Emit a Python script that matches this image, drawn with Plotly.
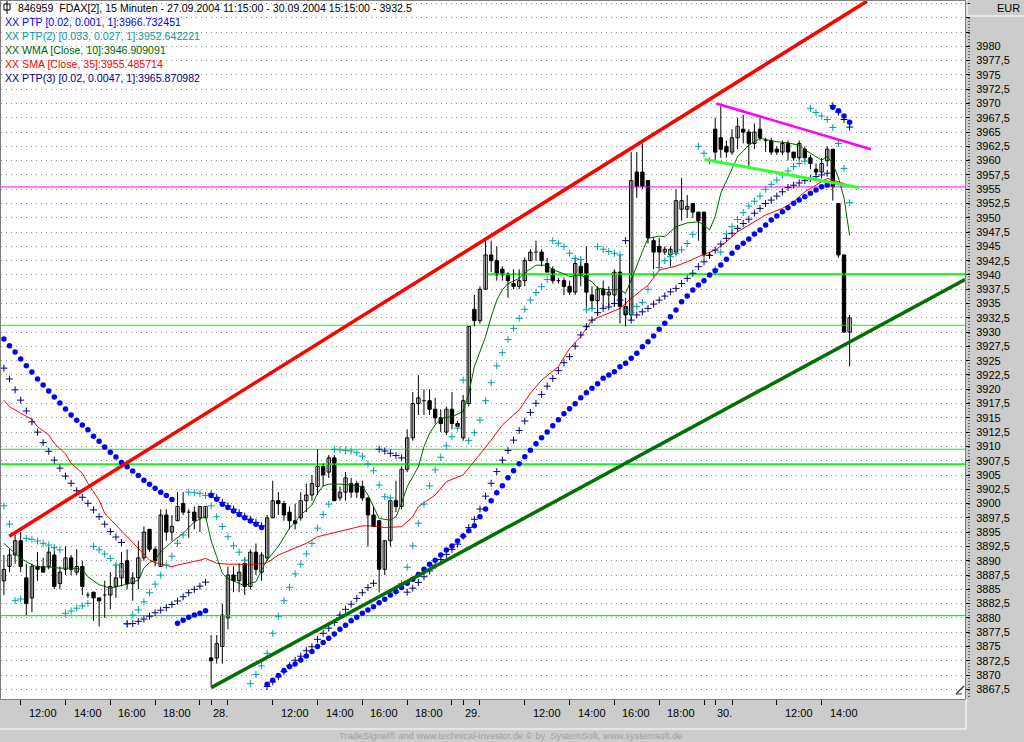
import plotly.graph_objects as go

# ---------------- data ----------------
open_p = [
    3886.5, 3889, 3891, 3893.5, 3887, 3883.5, 3889, 3889, 3889, 3891,
    3886, 3888.5, 3890.5, 3888, 3889, 3884, 3884.5, 3883.5, 3884, 3884,
    3885.5, 3887, 3890, 3886, 3887, 3890.5, 3895.5, 3892, 3889, 3898,
    3895, 3897, 3900, 3898.5, 3898.5, 3897.5, 3897.5, 3873, 3873, 3875,
    3880, 3887.5, 3886.5, 3889.5, 3885.5, 3891.5, 3888, 3890.5, 3897.5, 3900.5,
    3900, 3898.5, 3897, 3897.5, 3900.5, 3901.5, 3903, 3906.5, 3905.5, 3908,
    3901, 3902, 3903.5, 3903.5, 3903, 3901, 3898, 3897, 3888.5, 3893.5,
    3900.5, 3899.5, 3906, 3911.5, 3917.5, 3918, 3918, 3916.5, 3915, 3912.5,
    3916.5, 3914, 3911.5, 3917.5, 3934, 3932, 3937.5, 3943.5, 3942.5, 3941,
    3940, 3938.5, 3938, 3939, 3942.5, 3944, 3944, 3942, 3941, 3939,
    3939, 3938, 3937, 3941.5, 3942, 3936.5, 3935.5, 3937.5, 3936.5, 3936.5,
    3940.5, 3934.5, 3933, 3958, 3958, 3956.5, 3946, 3945, 3944, 3943.5,
    3944, 3951.5, 3951.5, 3952.5, 3951, 3951, 3943.5, 3965.5, 3964, 3962.5,
    3961.5, 3964, 3965.5, 3965, 3963, 3965.5, 3963.5, 3963.5, 3962, 3961.5,
    3963, 3961.5, 3960.5, 3962, 3960.5, 3958.5, 3958, 3960, 3962, 3952.5,
    3943.5, 3930]
high_p = [
    3891, 3892, 3894.5, 3895, 3889.5, 3889.5, 3891.5, 3890.5, 3892.5, 3892.5,
    3889, 3892.5, 3891, 3892, 3890, 3884.5, 3884.5, 3883.5, 3886.5, 3888,
    3889.5, 3891.5, 3892, 3888, 3893.5, 3896, 3895.5, 3892.5, 3899, 3899,
    3898, 3902, 3902, 3899, 3899.5, 3899.5, 3899.5, 3877, 3877, 3882.5,
    3889, 3889, 3889.5, 3890.5, 3892, 3893, 3891.5, 3898, 3904, 3902,
    3900.5, 3899.5, 3900, 3902, 3903.5, 3905, 3909.5, 3907, 3908.5, 3908.5,
    3903, 3905.5, 3904.5, 3904, 3904, 3901, 3899.5, 3897, 3893.5, 3901,
    3904, 3906.5, 3913, 3919.5, 3922.5, 3920, 3920, 3918.5, 3916.5, 3917,
    3919.5, 3914.5, 3919, 3931, 3936.5, 3938, 3946, 3946, 3945, 3941.5,
    3940.5, 3941, 3941, 3943, 3944.5, 3946, 3944.5, 3943, 3941.5, 3939.5,
    3939.5, 3939, 3943, 3942.5, 3945, 3938, 3938, 3939, 3938, 3941,
    3943.5, 3936, 3961.5, 3961.5, 3963, 3956.5, 3946.5, 3946.5, 3945, 3945,
    3955, 3957, 3954, 3952.5, 3951, 3951, 3944, 3967.5, 3969.5, 3963.5,
    3965.5, 3967.5, 3968, 3965.5, 3966.5, 3967.5, 3964, 3964, 3962.5, 3963.5,
    3963.5, 3961.5, 3963.5, 3962.5, 3961, 3959.5, 3960.5, 3962.5, 3962, 3952.5,
    3943.5, 3933]
low_p = [
    3884, 3888, 3889.5, 3888, 3880.5, 3881, 3886.5, 3888, 3888.5, 3885,
    3885, 3887.5, 3887.5, 3887.5, 3884, 3883.5, 3879.5, 3878.5, 3880, 3881.5,
    3883.5, 3885.5, 3885, 3883, 3885, 3890, 3891.5, 3889, 3889, 3893.5,
    3893.5, 3897, 3898, 3894, 3895.5, 3895, 3897.5, 3868, 3872, 3872,
    3878, 3884.5, 3884.5, 3884, 3885, 3887.5, 3886.5, 3890, 3897.5, 3898,
    3897, 3895.5, 3895.5, 3897, 3898.5, 3900.5, 3901.5, 3903, 3904.5, 3900.5,
    3900.5, 3900.5, 3901, 3901, 3900.5, 3892.5, 3896, 3884.5, 3887.5, 3892.5,
    3898.5, 3899, 3905.5, 3911, 3915.5, 3915.5, 3915.5, 3914, 3912.5, 3912,
    3913, 3913, 3911, 3917, 3931, 3931.5, 3937.5, 3940.5, 3939, 3939,
    3936, 3937.5, 3937.5, 3938, 3942.5, 3942.5, 3941.5, 3940.5, 3938.5, 3938.5,
    3936.5, 3936.5, 3936.5, 3938, 3934, 3934, 3933, 3934, 3934.5, 3934.5,
    3931.5, 3931, 3932, 3953.5, 3955, 3945.5, 3941, 3941, 3943.5, 3941.5,
    3943.5, 3949.5, 3950, 3950, 3946, 3943, 3943, 3960, 3960.5, 3960.5,
    3961, 3962, 3963, 3959, 3962, 3963.5, 3961.5, 3961, 3961, 3961,
    3960, 3960, 3960, 3960, 3958.5, 3957.5, 3957.5, 3959, 3953, 3943,
    3930, 3924]
close_p = [
    3888.5, 3891, 3893.5, 3889, 3882.5, 3889, 3888.5, 3888, 3891.5, 3885.5,
    3888, 3890.5, 3888.5, 3889, 3885.5, 3884, 3883.5, 3883, 3884, 3885.5,
    3887, 3889.5, 3886, 3887, 3890.5, 3895, 3892, 3890, 3898, 3895,
    3896, 3899.5, 3898.5, 3898.5, 3897, 3899.5, 3899.5, 3872.5, 3875.5, 3880.5,
    3887.5, 3886.5, 3888, 3885.5, 3891.5, 3888.5, 3891, 3897.5, 3900.5, 3900,
    3898, 3897, 3896.5, 3900.5, 3901.5, 3903.5, 3906.5, 3905, 3908, 3900.5,
    3902, 3904.5, 3902, 3902, 3901, 3898, 3896, 3888.5, 3893.5, 3900.5,
    3899.5, 3906, 3911.5, 3917.5, 3918.5, 3918, 3916.5, 3915, 3914, 3916.5,
    3914, 3913.5, 3918, 3931, 3932, 3937.5, 3943.5, 3942.5, 3940, 3940,
    3939, 3938, 3939, 3942.5, 3944, 3944, 3942.5, 3940.5, 3939, 3939,
    3938, 3937, 3942, 3940, 3937, 3935.5, 3937.5, 3936.5, 3937, 3940.5,
    3934.5, 3933, 3956.5, 3955.5, 3955.5, 3946.5, 3944, 3944, 3944.5, 3944.5,
    3953, 3953, 3952, 3951, 3949.5, 3943.5, 3943.5, 3961.5, 3962, 3961.5,
    3964, 3966, 3965, 3963, 3965, 3964, 3963.5, 3961.5, 3961.5, 3963,
    3961.5, 3960.5, 3963, 3960.5, 3959.5, 3958, 3959.5, 3962, 3955.5, 3943.5,
    3930, 3932.5]

# PTP (blue), PTP(2) (teal), PTP(3) (navy): one value per bar
ptp = [
    3928.8, 3927.6, 3926.5, 3925.3, 3924.1, 3923.0, 3921.8, 3920.75, 3919.7, 3918.65,
    3917.6, 3916.55, 3915.5, 3914.6, 3913.75, 3912.9, 3911.8, 3910.9, 3909.9, 3909.0,
    3908.15, 3907.2, 3906.45, 3905.7, 3904.9, 3904.1, 3903.4, 3902.7, 3902.0, 3901.4,
    3900.7, 3879.05, 3879.6, 3880.1, 3880.5, 3880.8, 3881.25, 3901.4, 3900.75, 3899.9,
    3899.3, 3898.7, 3898.1, 3897.5, 3896.95, 3896.4, 3895.8, 3868.4, 3869.1, 3869.9,
    3870.8, 3871.5, 3871.95, 3872.65, 3873.35, 3874.1, 3875.0, 3875.7, 3876.45, 3877.2,
    3878.0, 3878.7, 3879.5, 3880.1, 3880.8, 3881.4, 3881.95, 3882.65, 3883.25, 3884.0,
    3884.6, 3885.3, 3886.05, 3886.75, 3887.6, 3888.5, 3889.4, 3890.1, 3891.0, 3891.9,
    3892.6, 3893.45, 3894.33, 3895.25, 3896.13, 3897.7, 3899.05, 3900.5, 3901.9, 3903.13,
    3904.53, 3905.75, 3906.98, 3908.2, 3909.32, 3910.48, 3911.53, 3912.52, 3913.63, 3914.68,
    3915.73, 3916.6, 3917.47, 3918.52, 3919.4, 3920.17, 3920.97, 3921.92, 3922.5, 3923.07,
    3923.95, 3924.54, 3925.42, 3926.29, 3927.45, 3928.32, 3929.32, 3930.49, 3931.54, 3932.69,
    3933.87, 3935.32, 3936.32, 3937.37, 3938.24, 3939.0, 3939.99, 3940.74, 3941.74, 3942.74,
    3943.79, 3944.84, 3945.54, 3946.29, 3947.16, 3947.86, 3948.74, 3949.61, 3950.31, 3951.06,
    3951.76, 3952.53, 3953.11, 3953.69, 3954.28, 3954.86, 3955.44, 3955.73, 3969.33, 3968.73,
    3967.81, 3966.73]
ptp2 = [
    3899.6, 3896.4, 3883.0, 3883.3, 3893.9, 3893.75, 3893.45, 3893.05, 3892.75, 3892.3,
    3891.9, 3880.8, 3881.2, 3881.7, 3882.1, 3882.55, 3892.5, 3891.9, 3891.2, 3890.4,
    3889.25, 3888.1, 3879.0, 3880.5, 3881.4, 3882.8, 3884.4, 3885.9, 3887.5, 3889.25,
    3890.8, 3893.05, 3894.5, 3902.0, 3901.9, 3901.8, 3901.4, 3899.6, 3897.7, 3896.0,
    3894.2, 3892.6, 3891.5, 3890.1, 3868.5, 3870.1, 3871.6, 3873.8, 3877.3, 3880.3,
    3883.0, 3885.35, 3887.7, 3889.4, 3891.2, 3893.05, 3895.7, 3898.1, 3899.9, 3909.5,
    3909.4, 3909.3, 3909.2, 3908.9, 3908.3, 3906.9, 3905.75, 3903.25, 3901.2, 3901.0,
    3884.5, 3886.0, 3888.85, 3892.6, 3896.55, 3899.9, 3903.1, 3905.9, 3908.1, 3910.1,
    3911.7, 3913.2, 3921.6, 3911.0, 3912.4, 3914.6, 3918.0, 3921.15, 3924.1, 3926.4,
    3928.7, 3930.65, 3932.4, 3934.0, 3935.6, 3936.9, 3937.95, 3939.2, 3946.0, 3945.55,
    3944.95, 3943.8, 3942.9, 3942.7, 3933.9, 3934.15, 3944.95, 3944.5, 3944.1, 3943.8,
    3943.5, 3933.9, 3933.4, 3934.5, 3935.2, 3937.5, 3940.0, 3941.3, 3942.5, 3943.2,
    3943.8, 3944.4, 3945.5, 3947.1, 3962.5, 3961.3, 3960.0, 3941.0, 3944.0, 3947.2,
    3948.45, 3949.7, 3950.9, 3952.05, 3952.9, 3953.8, 3955.0, 3955.85, 3956.6, 3957.5,
    3958.2, 3958.95, 3959.5, 3959.9, 3969.15, 3968.4, 3967.8, 3967.2, 3965.8, 3963.0,
    3958.65, 3952.64]
ptp3 = [
    3923.7, 3921.8, 3919.9, 3918.1, 3916.2, 3914.3, 3912.5, 3910.65, 3909.15, 3907.6,
    3906.2, 3904.8, 3903.55, 3902.25, 3901.1, 3900.05, 3898.9, 3897.7, 3896.4, 3895.1,
    3894.15, 3893.2, 3878.95, 3879.0, 3879.4, 3879.8, 3880.3, 3880.9, 3881.35, 3881.8,
    3882.35, 3882.95, 3883.7, 3884.4, 3885.0, 3885.55, 3886.25, 3901.7, 3901.05, 3900.2,
    3899.6, 3899.0, 3898.4, 3897.8, 3897.25, 3896.7, 3896.1, 3868.0, 3868.8, 3869.7,
    3870.6, 3871.6, 3872.6, 3873.3, 3874.25, 3874.95, 3876.25, 3877.3, 3878.2, 3879.2,
    3880.5, 3881.5, 3882.4, 3883.4, 3884.4, 3885.3, 3886.05, 3909.5, 3909.2, 3908.8,
    3908.4, 3908.0, 3884.5, 3885.2, 3886.2, 3887.2, 3888.2, 3889.2, 3890.2, 3891.1,
    3892.0, 3892.9, 3894.3, 3895.8, 3897.25, 3899.05, 3901.3, 3903.55, 3905.6, 3907.6,
    3909.3, 3911.1, 3912.8, 3914.45, 3915.95, 3917.55, 3919.1, 3920.55, 3921.9, 3923.25,
    3924.65, 3925.7, 3927.55, 3929.5, 3930.95, 3932.1, 3933.4, 3934.15, 3934.4, 3935.0,
    3935.6, 3946.0, 3932.1, 3933.0, 3933.55, 3934.15, 3934.9, 3935.6, 3936.3, 3937.05,
    3937.65, 3938.5, 3939.4, 3940.3, 3941.45, 3942.3, 3943.4, 3944.35, 3945.4, 3946.4,
    3947.3, 3948.15, 3949.0, 3949.75, 3950.8, 3951.65, 3952.5, 3953.1, 3953.8, 3954.55,
    3955.3, 3955.7, 3956.1, 3956.5, 3956.9, 3957.2, 3957.5, 3957.8, 3969.6, 3968.5,
    3967.2, 3965.87]

# WMA(10) and SMA(35) read at selected bars
wma_idx = [0, 3, 5, 6, 8, 10, 12, 14, 15, 17, 19, 21, 22, 24, 25, 26, 27, 28, 30, 32,
           34, 36, 37, 38, 39, 40, 42, 43, 44, 45, 46, 47, 49, 50, 51, 52, 53, 55, 56, 57,
           58, 60, 62, 64, 65, 66, 67, 69, 70, 71, 72, 74, 75, 76, 77, 78, 80, 82, 83, 84,
           86, 87, 88, 89, 90, 92, 93, 95, 97, 98, 100, 101, 103, 105, 106, 108, 110, 111,
           112, 114, 115, 117, 118, 120, 122, 124, 125, 126, 127, 128, 130, 131, 133, 135,
           136, 138, 140, 142, 143, 145, 146, 147, 148, 149, 150, 151]
wma_val = [3893.05, 3890.4, 3889.3, 3888.9, 3888.9, 3888.7, 3888.7, 3888.5, 3887.2, 3885.8,
           3885.2, 3885.6, 3885.9, 3886.6, 3888.7, 3889.7, 3890.1, 3891.6, 3893.3, 3894.8,
           3896.8, 3897.8, 3893.5, 3890.7, 3887.8, 3886.9, 3886.1, 3885.6, 3886.1, 3886.3,
           3888.4, 3890.1, 3892.5, 3894.2, 3895.7, 3896.8, 3898.0, 3899.75, 3901.8, 3903.1,
           3903.4, 3903.4, 3903.25, 3902.95, 3901.5, 3899.45, 3897.4, 3897.1, 3897.7, 3900.05,
           3902.95, 3906.45, 3909.95, 3912.3, 3913.75, 3914.9, 3915.2, 3916.1, 3919.3, 3923.95,
           3929.2, 3932.7, 3935.6, 3937.4, 3938.5, 3939.4, 3940.4, 3941.7, 3941.7, 3940.9,
           3940.2, 3939.7, 3940.0, 3938.8, 3937.7, 3937.4, 3937.4, 3936.8,
           3939.1, 3944.1, 3946.4, 3946.8, 3946.7, 3948.45, 3949.1, 3949.3, 3948.7, 3947.9,
           3950.2, 3954.3, 3958.4, 3960.7, 3962.7, 3963.9,
           3963.7, 3963.3, 3963.1, 3962.7, 3961.9, 3960.7, 3960.1, 3960.7, 3959.5, 3957.0,
           3953.5, 3946.91]
sma_idx = [0, 1, 3, 5, 6, 8, 9, 11, 12, 14, 15, 16, 17, 18, 20, 22, 24, 26, 27, 29,
           30, 31, 33, 35, 36, 38, 40, 42, 44, 47, 49, 52, 54, 56, 59, 61, 64, 66, 68, 71,
           73, 74, 77, 79, 82, 87, 89, 92, 94, 96, 99, 101, 103, 105, 108, 110, 112, 115,
           117, 120, 122, 124, 127, 129, 131, 134, 136, 139, 141, 143, 146, 147, 148, 150, 151]
sma_val = [3918.1, 3916.95, 3915.8, 3914.75, 3913.45, 3912.0, 3910.55, 3908.7, 3907.05, 3905.3,
           3903.55, 3902.1, 3900.6, 3898.3, 3896.25, 3894.2, 3892.2, 3890.1, 3889.65, 3889.25,
           3888.95, 3889.25, 3889.65, 3890.1, 3890.4, 3889.55, 3889.4, 3889.4, 3889.25, 3889.65,
           3891.0, 3892.2, 3893.05, 3894.2, 3894.9, 3895.5, 3896.1, 3896.1, 3895.8, 3895.95,
           3897.7, 3899.45, 3901.5, 3903.85, 3905.0, 3911.1, 3913.75, 3916.4, 3919.3, 3921.6,
           3923.95, 3927.15, 3929.2, 3932.1, 3933.3, 3934.15, 3935.9, 3938.2,
           3940.85, 3941.55, 3942.3, 3943.2, 3944.35, 3945.8, 3947.55, 3949.3, 3950.5, 3951.65,
           3952.8, 3954.55, 3956.3, 3956.9, 3956.6, 3956.0, 3955.49]

# drawn trend lines (bar index, price)
channel_x, channel_y = [0.96, 154.1], [3894.3, 3987.9]
support_x, support_y = [37.0, 171.6], [3867.8, 3939.2]
resist_x, resist_y = [127.2, 154.8], [3970.0, 3962.0]
flag_x, flag_y = [125.1, 152.7], [3960.2, 3955.3]
# horizontal levels
lime_levels_thin = [3931.2, 3909.5, 3880.4]
lime_levels_bold = [3906.9]
lime_partial_level, lime_partial_start = 3940.15, 86.4
magenta_level = 3955.4

# x axis ticks (bar index) and labels
tick_idx = [3, 11, 19, 27, 35, 37, 40, 48, 56, 64, 72, 80, 82, 85, 93, 101, 109,
            117, 125, 127, 130, 138, 146]
label_idx = [3, 11, 19, 27, 37, 48, 56, 64, 72, 82, 93, 101, 109, 117, 127, 138, 146]
label_txt = ["12:00", "14:00", "16:00", "18:00", "28.", "12:00", "14:00", "16:00", "18:00",
             "29.", "12:00", "14:00", "16:00", "18:00", "30.", "12:00", "14:00"]

legend_lines = [
    ("846959  FDAX[2], 15 Minuten - 27.09.2004 11:15:00 - 30.09.2004 15:15:00 - 3932.5", "#000000"),
    ("XX PTP [0.02, 0.001, 1]:3966.732451", "#0000ff"),
    ("XX PTP(2) [0.033, 0.027, 1]:3952.642221", "#009999"),
    ("XX WMA [Close, 10]:3946.909091", "#006400"),
    ("XX SMA [Close, 35]:3955.485714", "#ff0000"),
    ("XX PTP(3) [0.02, 0.0047, 1]:3965.870982", "#000080"),
]

n = len(close_p)
for arr in (open_p, high_p, low_p, ptp, ptp2, ptp3):
    assert len(arr) == n, len(arr)
idx = list(range(n))

# ---------------- figure ----------------
FONT = "Liberation Sans, Arial, sans-serif"
W, H = 1024, 742
ML, MR, MT, MB = 1, 59, 1, 43
PW, PH = W - ML - MR, H - MT - MB
X0 = -0.518
X1 = 171.6
Y0, Y1 = 3865.81, 3987.93

fig = go.Figure()
XR = [X0 - 2, X1 + 2]

# horizontal levels
for lv in lime_levels_thin:
    fig.add_trace(go.Scatter(x=XR, y=[lv, lv], mode="lines",
                             line=dict(color="#00ff00", width=1.1), hoverinfo="skip"))
for lv in lime_levels_bold:
    fig.add_trace(go.Scatter(x=XR, y=[lv, lv], mode="lines",
                             line=dict(color="#00ff00", width=1.6), hoverinfo="skip"))
fig.add_trace(go.Scatter(x=[lime_partial_start, XR[1]], y=[lime_partial_level] * 2, mode="lines",
                         line=dict(color="#00ff00", width=1.6), hoverinfo="skip"))
fig.add_trace(go.Scatter(x=XR, y=[magenta_level] * 2, mode="lines",
                         line=dict(color="#ff00ff", width=1), hoverinfo="skip"))

# moving averages
fig.add_trace(go.Scatter(x=sma_idx, y=sma_val, mode="lines",
                         line=dict(color="#ff0000", width=1), hoverinfo="skip"))
fig.add_trace(go.Scatter(x=wma_idx, y=wma_val, mode="lines",
                         line=dict(color="#006400", width=1), hoverinfo="skip"))

# candles: wicks
wx, wy = [], []
for i in idx:
    wx += [i, i, None]
    wy += [low_p[i], high_p[i], None]
fig.add_trace(go.Scatter(x=wx, y=wy, mode="lines", line=dict(color="black", width=1),
                         hoverinfo="skip"))
# candles: bodies
ux, ub, uh, dx, db, dh, jx, jy = [], [], [], [], [], [], [], []
for i in idx:
    o, c = open_p[i], close_p[i]
    if abs(c - o) < 0.25:
        jx += [i - 0.32, i + 0.32, None]
        jy += [o, o, None]
    elif c > o:
        ux.append(i); ub.append(o); uh.append(c - o)
    else:
        dx.append(i); db.append(c); dh.append(o - c)
fig.add_trace(go.Bar(x=ux, y=uh, base=ub, width=0.6,
                     marker=dict(color="white", line=dict(color="black", width=1)),
                     hoverinfo="skip"))
fig.add_trace(go.Bar(x=dx, y=dh, base=db, width=0.6,
                     marker=dict(color="black", line=dict(color="black", width=1)),
                     hoverinfo="skip"))
fig.add_trace(go.Scatter(x=jx, y=jy, mode="lines", line=dict(color="black", width=1),
                         hoverinfo="skip"))

# parabolic markers
fig.add_trace(go.Scatter(x=idx, y=ptp2, mode="markers",
                         marker=dict(symbol="cross-thin", size=5,
                                     line=dict(color="#00a0a0", width=1)),
                         hoverinfo="skip"))
fig.add_trace(go.Scatter(x=idx, y=ptp3, mode="markers",
                         marker=dict(symbol="cross-thin", size=5,
                                     line=dict(color="#000080", width=1)),
                         hoverinfo="skip"))
fig.add_trace(go.Scatter(x=idx, y=ptp, mode="markers",
                         marker=dict(symbol="circle", size=5.5, color="#0000ff",
                                     line=dict(width=0)),
                         hoverinfo="skip"))

# trend lines
fig.add_trace(go.Scatter(x=channel_x, y=channel_y, mode="lines",
                         line=dict(color="#ff0000", width=3.5), hoverinfo="skip"))
fig.add_trace(go.Scatter(x=support_x, y=support_y, mode="lines",
                         line=dict(color="#007000", width=3.5), hoverinfo="skip"))
fig.add_trace(go.Scatter(x=resist_x, y=resist_y, mode="lines",
                         line=dict(color="#ff00ff", width=2.5), hoverinfo="skip"))
fig.add_trace(go.Scatter(x=flag_x, y=flag_y, mode="lines",
                         line=dict(color="#33ff33", width=3), hoverinfo="skip"))

# y ticks
yt, ytt = [], []
v = 3867.5
while v <= 3987.6:
    yt.append(v)
    if v <= 3980:
        s = ("%.1f" % v).replace(".0", "").replace(".", ",")
        ytt.append(s)
    else:
        ytt.append("")
    v += 2.5


def px(xp):
    return (xp - ML) / PW


def py(yp):
    return 1 - (yp - MT) / PH


annotations = []
for k, (t, col) in enumerate(legend_lines):
    annotations.append(dict(x=px(16 if k == 0 else 3), y=py(8 + 14 * k), xref="paper", yref="paper",
                            text=t, showarrow=False, xanchor="left", yanchor="middle",
                            font=dict(family=FONT, size=10.6, color=col)))
for i, t in zip(label_idx, label_txt):
    annotations.append(dict(x=i, y=0, xref="x", yref="paper", text=t, showarrow=False,
                            xanchor="left", yanchor="top", xshift=(0 if t.endswith(".") else 6),
                            yshift=-6, font=dict(family=FONT, size=11, color="black")))
annotations.append(dict(x=px(1008), y=py(8), xref="paper", yref="paper", text="EUR",
                        showarrow=False, xanchor="center", yanchor="middle",
                        font=dict(family=FONT, size=11, color="black")))
annotations.append(dict(x=px(511), y=py(736), xref="paper", yref="paper",
                        text="TradeSignal\u00ae and www.technical-investor.de \u00a9 by  SystemSoft, www.systemsoft.de",
                        showarrow=False, xanchor="center", yanchor="middle",
                        font=dict(family=FONT, size=9.3, color="#a0a0a0")))

shapes = [
    # dotted price-axis line
    dict(type="line", xref="paper", yref="paper", x0=px(969), x1=px(969), y0=py(18), y1=0,
         line=dict(color="black", width=1, dash="1px,2px")),
    # header / footer separators
    dict(type="line", xref="paper", yref="paper", x0=px(967), x1=px(1024), y0=py(16), y1=py(16),
         line=dict(color="white", width=1)),
    dict(type="line", xref="paper", yref="paper", x0=px(967), x1=px(967), y0=py(0), y1=py(16),
         line=dict(color="white", width=1)),
    dict(type="line", xref="paper", yref="paper", x0=px(0), x1=px(966), y0=py(729), y1=py(729),
         line=dict(color="white", width=1)),
    dict(type="line", xref="paper", yref="paper", x0=px(966), x1=px(966), y0=py(699), y1=py(729),
         line=dict(color="white", width=1)),
    # title icon
    dict(type="rect", xref="paper", yref="paper", x0=px(4), x1=px(10), y0=py(10), y1=py(4),
         line=dict(color="black", width=1)),
    dict(type="line", xref="paper", yref="paper", x0=px(7), x1=px(7), y0=py(14), y1=py(1),
         line=dict(color="black", width=1)),
    # small pencil icon in the lower right corner of the plot
    dict(type="line", xref="paper", yref="paper", x0=px(956), x1=px(964), y0=py(694), y1=py(686),
         line=dict(color="#404040", width=1.5)),
    dict(type="line", xref="paper", yref="paper", x0=px(956), x1=px(962), y0=py(694), y1=py(694),
         line=dict(color="#404040", width=1)),
]

fig.update_layout(
    width=W, height=H, margin=dict(l=ML, r=MR, t=MT, b=MB, pad=0),
    paper_bgcolor="#cccccc", plot_bgcolor="white", showlegend=False,
    barmode="overlay", font=dict(family=FONT, size=11, color="black"),
    annotations=annotations, shapes=shapes,
    xaxis=dict(range=[X0, X1], showgrid=False, zeroline=False, tickmode="array",
               tickvals=tick_idx, ticks="outside", ticklen=5, tickcolor="black",
               showticklabels=False, showline=True, linecolor="#808080", mirror=True,
               fixedrange=True),
    yaxis=dict(range=[Y0, Y1], side="right", tickmode="array", tickvals=yt, ticktext=ytt,
               showgrid=True, gridcolor="#909090", griddash="1px,4px", gridwidth=1,
               zeroline=False, ticks="outside", ticklen=4, tickcolor="black",
               ticklabelstandoff=4, showline=True, linecolor="#808080", mirror=True,
               tickfont=dict(family=FONT, size=11, color="black"), fixedrange=True),
)

fig.write_html("out.html", config={"displayModeBar": False},
               post_script="document.body.style.margin='0px';document.body.style.overflow='hidden';")
